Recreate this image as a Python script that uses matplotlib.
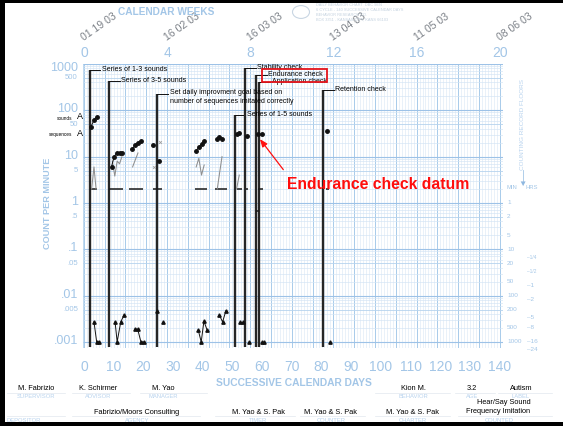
import matplotlib
matplotlib.use("Agg")
import matplotlib.pyplot as plt
from matplotlib.patches import Rectangle, Circle
from matplotlib.transforms import blended_transform_factory, offset_copy
import numpy as np

plt.rcParams["font.family"] = ["Liberation Sans", "DejaVu Sans"]

W, H = 563, 426
BLUE = "#a3c6e7"
PALE = "#b8d3ee"

# ---------------- chart data ----------------
week_ticks = [0, 4, 8, 12, 16, 20]
week_dates = ["01 19 03", "16 02 03", "16 03 03", "13 04 03", "11 05 03", "08 06 03"]
day_ticks = [0, 10, 20, 30, 40, 50, 60, 70, 80, 90, 100, 110, 120, 130, 140]

count_major = [1000, 100, 10, 1, 0.1, 0.01, 0.001]
count_major_labels = ["1000", "100", "10", "1", ".1", ".01", ".001"]
count_minor = [500, 50, 5, 0.5, 0.05, 0.005]
count_minor_labels = ["500", "50", "5", ".5", ".05", ".005"]

floor_minutes = [1, 2, 5, 10, 20, 50, 100, 200, 500, 1000]
floor_hours = [0.25, 0.5, 1, 2, 5, 8, 16, 24]
floor_hour_labels = ["1/4", "1/2", "1", "2", "5", "8", "16", "24"]

# phase change lines: day, height of the line, note
phase_days = [1.9, 8.4, 24.7, 50.8, 54.2, 57.9, 59.0, 80.5]
phase_tops = [750, 430, 226, 80, 820, 580, 410, 276]
phase_notes = [
    "Series of 1-3 sounds",
    "Series of 3-5 sounds",
    "Set daily improvment goal based on\nnumber of sequences imitated correctly",
    "Series of 1-5 sounds",
    "Stability check",
    "Endurance check",
    "Application check",
    "Retention check",
]

# correct responses per minute (dots), one list per connected run
correct_days = [[2.3, 3.4, 4.3], [9.3, 10.2, 11.1, 12.0, 12.9], [16.3, 17.3, 18.2, 19.1],
                [23.2], [25.4], [37.8, 38.7, 39.6, 40.5], [44.7, 45.6, 46.5],
                [51.4, 52.3], [54.8], [58.7], [59.8], [82.0]]
correct_counts = [[43, 62, 71], [6.1, 10, 12, 12, 12], [14.4, 18, 20, 22],
                  [18], [8.2], [13.5, 16, 19, 22], [24, 26, 24],
                  [31, 32.5], [28], [31], [31], [35]]

# error runs (grey)
error_days = [[2.6, 3.4, 4.1], [9.6, 10.4, 11.2, 12.0, 12.8], [16.4, 17.3, 18.2],
              [23.5], [25.6], [37.8, 38.7, 39.6, 40.5], [44.9, 45.7, 46.5], [51.4, 52.3]]
error_counts = [[2, 6, 2], [8, 3.8, 8, 7, 10], [6, 8.5, 12],
                [6], [21], [6, 9.2, 4, 6.6], [2, 4.5, 10], [2, 4]]

# triangle series near the chart floor
tri_days = [[3.4, 4.3, 5.2], [10.5, 11.2, 12.4, 13.5], [17.2, 18.1, 19.2, 20.2],
            [24.5], [26.5], [38.5, 39.5, 40.4, 41.5], [45.6, 46.7, 47.8],
            [52.5, 53.5], [55.7], [59.8, 60.7], [83.0]]
tri_counts = [[0.0027, 0.001, 0.001], [0.0027, 0.001, 0.0027, 0.0038],
              [0.0019, 0.0019, 0.001, 0.001], [0.0047], [0.0027],
              [0.0018, 0.001, 0.0028, 0.0018], [0.0038, 0.0027, 0.0047],
              [0.0027, 0.0027], [0.001], [0.001, 0.001], [0.001]]

# record floors (timing floors)
floor_start = [2.0, 8.4, 15.2, 23.3, 37.4, 44.1, 51.4, 54.6, 58.6, 57.9, 81.5]
floor_end = [4.4, 13.2, 19.9, 26.3, 41.3, 48.1, 53.1, 55.4, 60.3, 59.0, 82.5]
floor_level = [2, 2, 2, 2, 2, 2, 2, 2, 2, 0.667, 2]

aim_names = ["sounds", "sequences"]
aim_counts = [72, 32]

datum_day, datum_count = 58.7, 31

# ---------------- figure ----------------
fig = plt.figure(figsize=(W / 100, H / 100), dpi=100)
fig.patch.set_facecolor("white")


def fx(px):
    return px / W


def fy(py):
    return 1 - py / H


ax = fig.add_axes([fx(83), fy(348), 420 / W, 284 / H])
ax.set_yscale("log")
ax.set_xlim(-0.3, 141.1)
ax.set_ylim(0.00074, 1000)
ax.axis("off")

# grid: daily lines, weekly lines
days = np.arange(0, 141)
ax.vlines(days, 0.00074, 1000, color="#dde9f6", lw=0.45, zorder=0)
ax.vlines(days[::7], 0.00074, 1000, color="#a9cbea", lw=0.7, zorder=0)
# grid: count lines
for k in range(-3, 3):
    for m in range(1, 10):
        v = m * 10.0 ** k
        if m == 1:
            ax.axhline(v, color="#9dc2e7", lw=0.8, zorder=0)
        elif m == 5:
            ax.axhline(v, color="#b6d3ee", lw=0.6, zorder=0)
        else:
            ax.axhline(v, color="#d3e4f5", lw=0.45, zorder=0)
ax.axhline(1000, color="#9dc2e7", lw=0.8, zorder=0)
ax.axhline(0.00074, color="#b6d3ee", lw=0.6, zorder=0)
ax.axvline(-0.3, color="#b6d3ee", lw=0.6, zorder=0)
ax.axvline(141.1, color="#b6d3ee", lw=0.6, zorder=0)

# phase change lines and notes
for d, top, note in zip(phase_days, phase_tops, phase_notes):
    ax.vlines(d, 0.00078, top, color="#262626", lw=1.7, zorder=3)
    ax.plot([d, d + 3.6], [top, top], color="#111111", lw=0.7, zorder=3)
    if "\n" in note:
        tr = offset_copy(ax.transData, fig=fig, x=0, y=4.5, units="dots")
        ax.text(d + 4.2, top, note, fontsize=5, va="top", ha="left",
                linespacing=1.25, transform=tr, zorder=4)
    else:
        ax.text(d + 4.2, top, note, fontsize=5, va="center", ha="left", zorder=4)

# record floors
for s, e, lv in zip(floor_start, floor_end, floor_level):
    ax.plot([s, e], [lv, lv], color="#1a1a1a", lw=1.1, zorder=3, solid_capstyle="butt")

# errors
for dd, cc in zip(error_days, error_counts):
    if len(dd) > 1:
        ax.plot(dd, cc, color="#8e8e8e", lw=0.75, zorder=3)
    else:
        ax.plot(dd, cc, ls="none", marker="x", ms=2, mew=0.6, color="#a0a0a0", zorder=3)

# corrects
for dd, cc in zip(correct_days, correct_counts):
    ax.plot(dd, cc, color="#111111", lw=0.7, marker="o", ms=2.5, zorder=5)

# triangles
for dd, cc in zip(tri_days, tri_counts):
    ax.plot(dd, cc, color="#111111", lw=0.7, marker="^", ms=2.4, zorder=5)

# aims on the left edge
yblend = blended_transform_factory(fig.transFigure, ax.transData)
name_tr = offset_copy(yblend, fig=fig, x=0, y=-1.5, units="dots")
for name, c in zip(aim_names, aim_counts):
    ax.text(fx(72), c, name, fontsize=3.4, ha="right", va="center",
            transform=name_tr, clip_on=False)
    ax.text(fx(77), c, "A", fontsize=6.5, ha="left", va="center",
            transform=yblend, clip_on=False)

# y labels (count per minute)
lblend = blended_transform_factory(ax.transAxes, ax.transData)
for v, t in zip(count_major, count_major_labels):
    if v == 1000:
        ax.text(-0.012, v, t, fontsize=9, color=BLUE, ha="right", va="top",
                transform=offset_copy(lblend, fig=fig, x=0, y=2, units="dots"),
                clip_on=False)
    else:
        ax.text(-0.012, v, t, fontsize=9, color=BLUE, ha="right", va="center",
                transform=offset_copy(lblend, fig=fig, x=0, y=1, units="dots"),
                clip_on=False)
for v, t in zip(count_minor, count_minor_labels):
    ax.text(-0.012, v, t, fontsize=5.6, color=BLUE, ha="right", va="center",
            transform=lblend, clip_on=False)

# right side counting floors
for m in floor_minutes:
    ax.text(1.0095, 1.0 / m, str(m), fontsize=4.6, color=BLUE, ha="left",
            va="center", transform=lblend, clip_on=False)
for h, t in zip(floor_hours, floor_hour_labels):
    ax.text(1.057, 1.0 / (60 * h), "\u2013" + t, fontsize=3.4 if "/" in t else 4.6,
            color=BLUE, ha="left", va="center", transform=lblend, clip_on=False)
fig.text(fx(523), fy(124), "COUNTING RECORD FLOORS", rotation=90, fontsize=4.6,
         color=PALE, ha="center", va="center")
fig.add_artist(plt.Line2D([fx(522.5), fx(522.5)], [fy(170), fy(181)],
                          color=BLUE, lw=0.6))
fig.text(fx(522.5), fy(184), "\u25BC", fontsize=6, color="#8fb8e0",
         ha="center", va="center")
fig.text(fx(512), fy(188), "MIN", fontsize=4.2, color=BLUE, ha="center", va="center")
fig.text(fx(532), fy(188), "HRS", fontsize=4.2, color=BLUE, ha="center", va="center")

# x labels (days)
for d in day_ticks:
    ax.text(d, -0.067, str(d), fontsize=10, color=BLUE, ha="center", va="center",
            transform=blended_transform_factory(ax.transData, ax.transAxes))
fig.text(fx(294), fy(383), "SUCCESSIVE CALENDAR DAYS", fontsize=7.4,
         fontweight="bold", color=BLUE, ha="center", va="center")

# top: calendar weeks and dates
tblend = blended_transform_factory(ax.transData, ax.transAxes)
for w, dt in zip(week_ticks, week_dates):
    ax.text(w * 7, 1.039, str(w), fontsize=10, color=BLUE, ha="center",
            va="center", transform=tblend, clip_on=False)
    ax.text(w * 7 + 0.4, 1.074, dt, fontsize=7.6, color="#7c8188", ha="left",
            va="bottom", rotation=35, rotation_mode="anchor",
            transform=tblend, clip_on=False)
fig.text(fx(166), fy(12), "CALENDAR WEEKS", fontsize=7.3, fontweight="bold",
         color=BLUE, ha="center", va="center")
fig.text(fx(47), fy(203), "COUNT PER MINUTE", rotation=90, fontsize=6.6,
         fontweight="bold", color=BLUE, ha="center", va="center")

# publisher mark
fig.add_artist(Circle((fx(301), fy(12)), 8.5 / W, transform=fig.transFigure,
                      fill=False, ec="#c9d6e3", lw=0.8))
for i, line in enumerate(["DAILY BEHAVIOR CHART  DBC 9EN",
                          "6 CYCLE - 140 SUCCESSIVE CALENDAR DAYS",
                          "BEHAVIOR RESEARCH CO.",
                          "BOX 3351 - KANSAS CITY, KANS 66103"]):
    fig.text(fx(316), fy(5 + i * 5), line, fontsize=2.8, color="#c3d1df",
             ha="left", va="center")

# endurance check highlight
fig.add_artist(Rectangle((fx(262), fy(81.7)), 65 / W, 12.7 / H,
                         transform=fig.transFigure, fill=False, ec="#e4141b", lw=1.3))
fig.text(fx(287), fy(185), "Endurance check datum", fontsize=11.3,
         fontweight="bold", color="#ff0d0d", ha="left", va="center")
ax.annotate("", xy=(datum_day, datum_count * 0.86), xytext=(67.7, 4.7),
            arrowprops=dict(arrowstyle="-|>,head_length=0.45,head_width=0.18",
                            color="#ff1010", lw=0.9), zorder=6)

# chart identification fields
row1 = [("M. Fabrizio", "SUPERVISOR", 36), ("K. Schirmer", "ADVISOR", 98),
        ("M. Yao", "MANAGER", 163), ("Kion M.", "BEHAVIOR", 413),
        ("3.2", "AGE", 472), ("Autism", "LABEL", 521)]
row2 = [("", "DEPOSITOR", 24), ("Fabrizio/Moors Consulting", "AGENCY", 137),
        ("M. Yao & S. Pak", "TIMER", 258), ("M. Yao & S. Pak", "COUNTER", 331),
        ("M. Yao & S. Pak", "CHARTER", 413)]
for name, cap, x in row1:
    fig.text(fx(x), fy(388), name, fontsize=5.3, ha="center", va="center")
    fig.text(fx(x), fy(397), cap, fontsize=4.2, color=PALE, ha="center", va="center")
for name, cap, x in row2:
    if name:
        fig.text(fx(x), fy(412), name, fontsize=5.3, ha="center", va="center")
    fig.text(fx(x), fy(420), cap, fontsize=4.2, color=PALE, ha="center", va="center")
fig.text(fx(504), fy(403), "Hear/Say Sound", fontsize=5.3, ha="center", va="center")
fig.text(fx(498), fy(411.5), "Frequency Imitation", fontsize=5.3, ha="center", va="center")
fig.text(fx(499), fy(420), "COUNTED", fontsize=4.2, color=PALE, ha="center", va="center")
for x0, x1 in [(7, 65), (72, 130), (140, 207), (375, 450), (455, 495), (498, 552)]:
    fig.add_artist(plt.Line2D([fx(x0), fx(x1)], [fy(392.5), fy(392.5)],
                              color="#e2e8ee", lw=0.5))
for x0, x1 in [(7, 65), (72, 200), (215, 295), (300, 365), (375, 450), (458, 552)]:
    fig.add_artist(plt.Line2D([fx(x0), fx(x1)], [fy(415.5), fy(415.5)],
                              color="#e2e8ee", lw=0.5))

# black frame
for rect in [(0, 0, 5, H), (0, 0, W, 3), (0, H - 4, W, 4)]:
    x, y, w, h = rect
    fig.add_artist(Rectangle((fx(x), fy(y + h)), w / W, h / H,
                             transform=fig.transFigure, color="black", lw=0))

fig.savefig("out.png", dpi=100, facecolor="white")
